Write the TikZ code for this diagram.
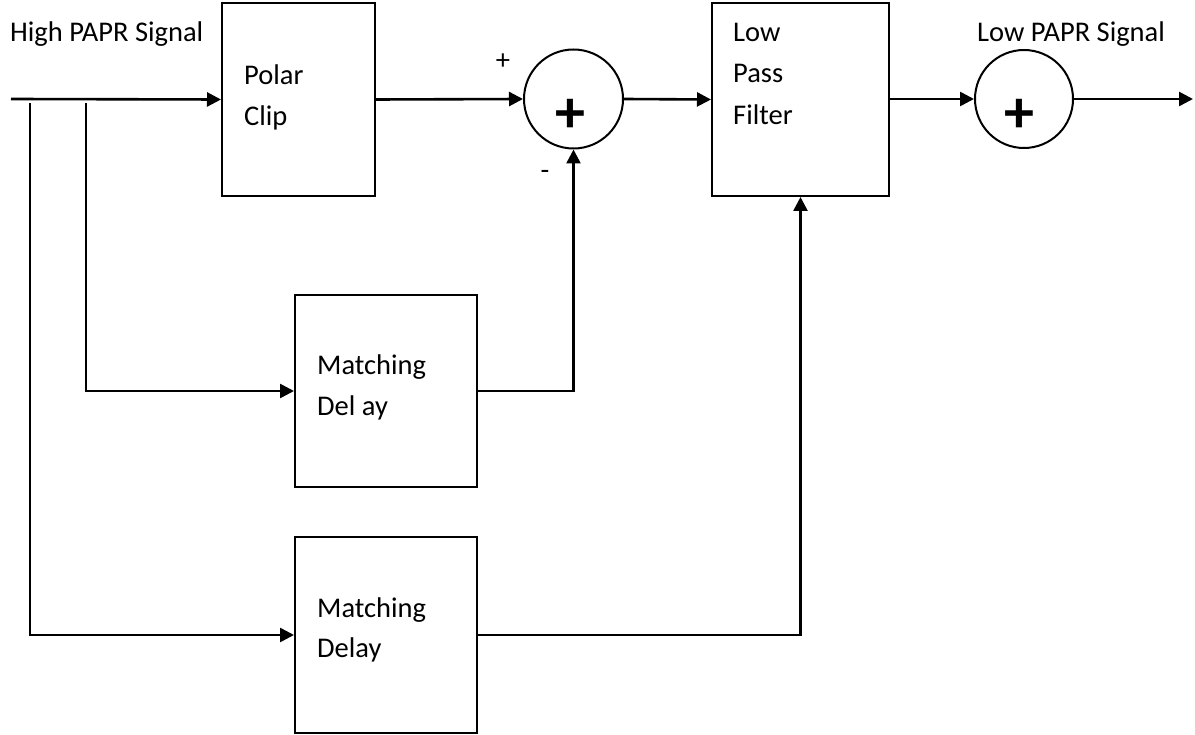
\documentclass[tikz,border=0pt]{standalone}
\usepackage{fontspec}
\setmainfont{Carlito}
\usetikzlibrary{arrows.meta}
\tikzset{
  blk/.style={draw, line width=2pt, inner sep=0pt},
  sumnode/.style={draw, circle, line width=2pt, inner sep=0pt},
  lbl/.style={anchor=base west, inner sep=0pt, font=\fontsize{28.5}{34}\selectfont},
  sgn/.style={inner sep=0pt, font=\fontsize{28.5}{34}\selectfont},
  bigplus/.style={inner sep=0pt, font=\fontsize{60}{60}\selectfont\bfseries},
  wire/.style={line width=2.6pt},
  arr/.style={wire, -{Triangle[length=14pt,width=14pt]}}
}
\begin{document}
\begin{tikzpicture}[x=1pt,y=-1pt]
\useasboundingbox (0,0) rectangle (1195,735);
% blocks
\node[blk, minimum width=153pt, minimum height=193pt] (pc) at (298.5,99.5) {};
\node[blk, minimum width=177pt, minimum height=193pt] (lpf) at (800.5,99.5) {};
\node[blk, minimum width=182pt, minimum height=192pt] (md1) at (386,391) {};
\node[blk, minimum width=182pt, minimum height=196pt] (md2) at (386,635) {};
\node[sumnode, minimum size=99pt] (s1) at (573.5,99) {};
\node[sumnode, minimum size=98pt] (s2) at (1024,99) {};
% texts
\node[lbl] (tin) at (10,42) {High PAPR Signal};
\node[lbl] (tout) at (977,42) {Low PAPR Signal};
\node[lbl] (pc1) at (244,85) {Polar};
\node[lbl] (pc2) at (244,126) {Clip};
\node[lbl] (lp1) at (733,42) {Low};
\node[lbl] (lp2) at (733,83) {Pass};
\node[lbl] (lp3) at (733,125) {Filter};
\node[lbl] (ma1) at (317,375) {Matching};
\node[lbl] (ma2) at (317,416) {Del ay};
\node[lbl] (mb1) at (317,617) {Matching};
\node[lbl] (mb2) at (317,657) {Delay};
\node[sgn] (plus) at (503,62) {+};
\node[sgn] (minus) at (545,175) {-};
\node[bigplus] (p1) at (570,116) {+};
\node[bigplus] (p2) at (1019,116) {+};
% connectors
\coordinate (in) at (11,99);
\coordinate (b1) at (30,103);
\coordinate (b2) at (86,103);
\coordinate (out) at (1193,99);
\draw[arr] (in) -- (pc.west);
\draw[arr] (b1) |- (md2.west);
\draw[arr] (b2) |- (md1.west);
\draw[arr] (pc.east) -- (s1.west);
\draw[arr] (md1.east) -| (s1.south);
\draw[arr] (s1.east) -- (lpf.west);
\draw[arr] (md2.east) -| (lpf.south);
\draw[arr] (lpf.east |- s2.west) -- (s2.west);
\draw[arr] (s2.east) -- (out);
\end{tikzpicture}
\end{document}
